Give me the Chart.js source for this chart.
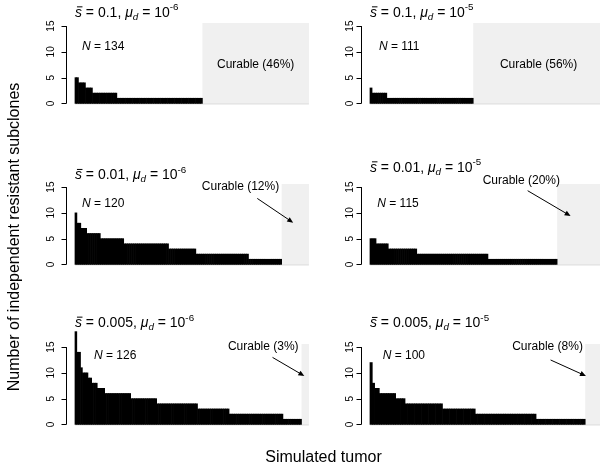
<!DOCTYPE html>
<html>
<head>
<meta charset="utf-8">
<title>Independent resistant subclones per simulated tumor</title>
<script src="https://cdn.jsdelivr.net/npm/chart.js@4.4.1/dist/chart.umd.min.js"></script>
<style>
  html, body { margin: 0; padding: 0; background: #fff; overflow: hidden; }
  #fig { position: relative; width: 600px; height: 472px; overflow: hidden; background: #fff; }
  #fig canvas { position: absolute; left: 0; top: 0; }
</style>
</head>
<body>
<div id="fig"></div>
<script>
// subclone counts of the non-curable tumors, sorted high to low (one bar per tumor)
const s01Mu6 = [
  5, 5,
  4, 4, 4, 4,
  3, 3, 3, 3,
  2, 2, 2, 2, 2, 2, 2, 2, 2, 2, 2, 2, 2, 2,
  1, 1, 1, 1, 1, 1, 1, 1, 1, 1,
  1, 1, 1, 1, 1, 1, 1, 1, 1, 1,
  1, 1, 1, 1, 1, 1, 1, 1, 1, 1,
  1, 1, 1, 1, 1, 1, 1, 1, 1, 1,
  1, 1, 1, 1, 1, 1, 1, 1, 1
];
const s01Mu5 = [
  3,
  2, 2, 2, 2, 2, 2, 2,
  1, 1, 1, 1, 1, 1, 1, 1, 1, 1,
  1, 1, 1, 1, 1, 1, 1, 1, 1, 1,
  1, 1, 1, 1, 1, 1, 1, 1, 1, 1,
  1, 1, 1, 1, 1, 1, 1, 1, 1, 1,
  1
];
const s001Mu6 = [
  10,
  8, 8,
  7, 7, 7,
  6, 6, 6, 6, 6, 6, 6,
  5, 5, 5, 5, 5, 5, 5, 5, 5, 5, 5, 5,
  4, 4, 4, 4, 4, 4, 4, 4, 4, 4,
  4, 4, 4, 4, 4, 4, 4, 4, 4, 4,
  4, 4, 4,
  3, 3, 3, 3, 3, 3, 3, 3, 3, 3, 3, 3, 3, 3,
  2, 2, 2, 2, 2, 2, 2, 2, 2, 2,
  2, 2, 2, 2, 2, 2, 2, 2, 2, 2,
  2, 2, 2, 2, 2, 2, 2,
  1, 1, 1, 1, 1, 1, 1, 1, 1, 1,
  1, 1, 1, 1, 1, 1, 1
];
const s001Mu5 = [
  5, 5, 5,
  4, 4, 4, 4, 4, 4,
  3, 3, 3, 3, 3, 3, 3, 3, 3, 3, 3, 3, 3, 3,
  2, 2, 2, 2, 2, 2, 2, 2, 2, 2,
  2, 2, 2, 2, 2, 2, 2, 2, 2, 2,
  2, 2, 2, 2, 2, 2, 2, 2, 2, 2,
  2, 2, 2, 2, 2,
  1, 1, 1, 1, 1, 1, 1, 1, 1, 1,
  1, 1, 1, 1, 1, 1, 1, 1, 1, 1,
  1, 1, 1, 1, 1, 1, 1, 1, 1, 1,
  1, 1, 1, 1
];
const s0005Mu6 = [
  18,
  14, 14,
  11,
  10, 10, 10,
  9, 9,
  8, 8, 8,
  7, 7, 7, 7,
  6, 6, 6, 6, 6, 6, 6, 6, 6, 6, 6, 6, 6, 6,
  5, 5, 5, 5, 5, 5, 5, 5, 5, 5, 5, 5, 5, 5,
  4, 4, 4, 4, 4, 4, 4, 4, 4, 4,
  4, 4, 4, 4, 4, 4, 4, 4, 4, 4,
  4, 4,
  3, 3, 3, 3, 3, 3, 3, 3, 3, 3,
  3, 3, 3, 3, 3, 3, 3,
  2, 2, 2, 2, 2, 2, 2, 2, 2, 2,
  2, 2, 2, 2, 2, 2, 2, 2, 2, 2,
  2, 2, 2, 2, 2, 2, 2, 2, 2,
  1, 1, 1, 1, 1, 1, 1, 1, 1, 1
];
const s0005Mu5 = [
  12,
  8,
  7, 7,
  6, 6, 6, 6, 6, 6, 6,
  5, 5, 5, 5,
  4, 4, 4, 4, 4, 4, 4, 4, 4, 4,
  4, 4, 4, 4, 4, 4,
  3, 3, 3, 3, 3, 3, 3, 3, 3, 3, 3, 3, 3, 3,
  2, 2, 2, 2, 2, 2, 2, 2, 2, 2,
  2, 2, 2, 2, 2, 2, 2, 2, 2, 2,
  2, 2, 2, 2, 2, 2,
  1, 1, 1, 1, 1, 1, 1, 1, 1, 1,
  1, 1, 1, 1, 1, 1, 1, 1, 1, 1,
  1
];

const panelValues = [s01Mu6, s01Mu5, s001Mu6, s001Mu5, s0005Mu6, s0005Mu5];
const tumorCounts = [134, 111, 120, 115, 126, 100];
const curablePct = [46, 56, 12, 20, 3, 8];
const sBar = ['0.1', '0.1', '0.01', '0.01', '0.005', '0.005'];
const muExp = ['-6', '-5', '-6', '-5', '-6', '-5'];
const yTicks = [0, 5, 10, 15];

const FONT = '"Liberation Sans", Arial, Helvetica, sans-serif';
const CW = 640, CH = 472;           // every panel canvas spans the figure
const colX = [65.6, 360.6];         // left edge of plot region per column
const rowY = [23, 184, 344];        // top edge of plot region per row
const plotW = 252.7, plotH = 83.5;
const tickLabelGap = [15.5, 11];

// per panel text placement: title/N offsets in px, curable label and arrow in data units
const layout = [
  { titleDy: -6.3,  nDx: 7,    nDy: 27,   cur: { u: null,  v: 6.9 },  arrow: null },
  { titleDy: -6.3,  nDx: 9,    nDy: 27,   cur: { u: null,  v: 6.9 },  arrow: null },
  { titleDy: -4.7,  nDx: 7,    nDy: 22.7, cur: { u: 84.9,  v: 14.4 }, arrow: [93.5, 12.8, 111.9, 8.1] },
  { titleDy: -12.3, nDx: 7.3,  nDy: 23.3, cur: { u: 74.4,  v: 15.6 }, arrow: [77.5, 14.3, 98.6, 9.4] },
  { titleDy: -17,   nDx: 19,   nDy: 15.3, cur: { u: 101.4, v: 14.5 }, arrow: [106.4, 13.0, 123.5, 9.4] },
  { titleDy: -16.7, nDx: 12.7, nDy: 15.3, cur: { u: 75.9,  v: 14.5 }, arrow: [77.2, 12.5, 92.3, 9.4] }
];

function drawRich(ctx, parts, x, y, size) {
  ctx.textAlign = 'left';
  ctx.textBaseline = 'alphabetic';
  for (const p of parts) {
    const fs = (p.sub || p.sup) ? size * 0.7 : size;
    ctx.font = (p.it ? 'italic ' : '') + fs + 'px ' + FONT;
    const dy = p.sub ? size * 0.22 : p.sup ? -size * 0.45 : 0;
    ctx.fillText(p.t, x, y + dy);
    const w = ctx.measureText(p.t).width;
    if (p.bar) ctx.fillRect(x + 2, y - size * 0.74, w - 1.5, 1);
    x += w;
  }
}

function decorPlugin(i) {
  const col = i % 2;
  const L = layout[i];
  const N = tumorCounts[i];
  const nBars = panelValues[i].length;
  return {
    id: 'panelDecor' + i,
    beforeDatasetsDraw(chart) {
      const { ctx, chartArea } = chart;
      const xs = chart.scales.x, ys = chart.scales.y;
      const x0 = xs.getPixelForValue(nBars), x1 = xs.getPixelForValue(N);
      const y0 = ys.getPixelForValue(0);
      ctx.save();
      ctx.fillStyle = '#f0f0f0';
      ctx.fillRect(x0, chartArea.top, x1 - x0, y0 - chartArea.top);
      ctx.strokeStyle = '#cfcfcf';
      ctx.lineWidth = 0.8;
      ctx.beginPath();
      ctx.moveTo(xs.getPixelForValue(0), y0 + 0.5);
      ctx.lineTo(x1, y0 + 0.5);
      ctx.stroke();
      ctx.restore();
    },
    afterDatasetsDraw(chart) {
      const { ctx, chartArea } = chart;
      const xs = chart.scales.x, ys = chart.scales.y;
      ctx.save();
      ctx.fillStyle = '#000';
      ctx.strokeStyle = '#000';

      // y axis from 0 to 15 with outward ticks and rotated labels
      const ax = Math.round(chartArea.left) + 0.5;
      ctx.lineWidth = 1;
      ctx.beginPath();
      ctx.moveTo(ax, ys.getPixelForValue(yTicks[0]));
      ctx.lineTo(ax, ys.getPixelForValue(yTicks[yTicks.length - 1]));
      for (const t of yTicks) {
        const py = Math.round(ys.getPixelForValue(t)) + 0.5;
        ctx.moveTo(ax - 5, py);
        ctx.lineTo(ax, py);
      }
      ctx.stroke();
      ctx.font = '10px ' + FONT;
      ctx.textAlign = 'center';
      ctx.textBaseline = 'middle';
      for (const t of yTicks) {
        ctx.save();
        ctx.translate(ax - tickLabelGap[col], ys.getPixelForValue(t));
        ctx.rotate(-Math.PI / 2);
        ctx.fillText(String(t), 0, 0);
        ctx.restore();
      }

      // panel title: s-bar and mu_d
      const ux0 = xs.getPixelForValue(0);
      drawRich(ctx, [
        { t: 's', it: true, bar: true },
        { t: ' = ' + sBar[i] + ', ' },
        { t: 'μ', it: true },
        { t: 'd', it: true, sub: true },
        { t: ' = 10' },
        { t: muExp[i], sup: true }
      ], ux0, chartArea.top + L.titleDy, 14);

      // number of simulated tumors
      drawRich(ctx, [
        { t: 'N', it: true },
        { t: ' = ' + N }
      ], ux0 + L.nDx, chartArea.top + L.nDy, 12);

      // curable share label
      const cu = L.cur.u === null ? (nBars + N) / 2 : L.cur.u;
      ctx.font = '12px ' + FONT;
      ctx.textAlign = 'center';
      ctx.textBaseline = 'alphabetic';
      ctx.fillText('Curable (' + curablePct[i] + '%)', xs.getPixelForValue(cu), ys.getPixelForValue(L.cur.v));

      if (L.arrow) {
        const [u1, v1, u2, v2] = L.arrow;
        const ax1 = xs.getPixelForValue(u1), ay1 = ys.getPixelForValue(v1);
        const ax2 = xs.getPixelForValue(u2), ay2 = ys.getPixelForValue(v2);
        const ang = Math.atan2(ay2 - ay1, ax2 - ax1);
        ctx.lineWidth = 1;
        ctx.beginPath();
        ctx.moveTo(ax1, ay1);
        ctx.lineTo(ax2 - 4 * Math.cos(ang), ay2 - 4 * Math.sin(ang));
        ctx.stroke();
        ctx.beginPath();
        ctx.moveTo(ax2, ay2);
        ctx.lineTo(ax2 - 6.5 * Math.cos(ang - 0.42), ay2 - 6.5 * Math.sin(ang - 0.42));
        ctx.lineTo(ax2 - 6.5 * Math.cos(ang + 0.42), ay2 - 6.5 * Math.sin(ang + 0.42));
        ctx.closePath();
        ctx.fill();
      }

      // shared axis titles, drawn once
      if (i === 0) {
        ctx.font = '16px ' + FONT;
        ctx.textAlign = 'center';
        ctx.textBaseline = 'alphabetic';
        ctx.fillText('Simulated tumor', 323.5, 462);
        ctx.save();
        ctx.translate(19, 237);
        ctx.rotate(-Math.PI / 2);
        ctx.fillText('Number of independent resistant subclones', 0, 0);
        ctx.restore();
      }
      ctx.restore();
    }
  };
}

const fig = document.getElementById('fig');
panelValues.forEach((values, i) => {
  const col = i % 2, row = Math.floor(i / 2);
  const N = tumorCounts[i];
  const canvas = document.createElement('canvas');
  canvas.width = CW;
  canvas.height = CH;
  canvas.style.width = CW + 'px';
  canvas.style.height = CH + 'px';
  fig.appendChild(canvas);

  const left = colX[col], top = rowY[row];
  new Chart(canvas, {
    type: 'bar',
    data: {
      datasets: [{
        data: values.map((v, k) => ({ x: k + 0.5, y: v })),
        backgroundColor: '#000',
        borderWidth: 0,
        barPercentage: 1,
        categoryPercentage: 1,
        clip: false
      }]
    },
    options: {
      responsive: false,
      animation: false,
      devicePixelRatio: 1,
      events: [],
      layout: {
        padding: { left: left, top: top, right: CW - left - plotW, bottom: CH - top - plotH }
      },
      scales: {
        x: { type: 'linear', offset: false, grid: { offset: false }, min: -0.04 * N, max: 1.04 * N, display: false },
        y: { type: 'linear', min: -0.6, max: 15.6, display: false }
      },
      plugins: {
        legend: { display: false },
        tooltip: { enabled: false }
      }
    },
    plugins: [decorPlugin(i)]
  });
});
</script>
</body>
</html>
